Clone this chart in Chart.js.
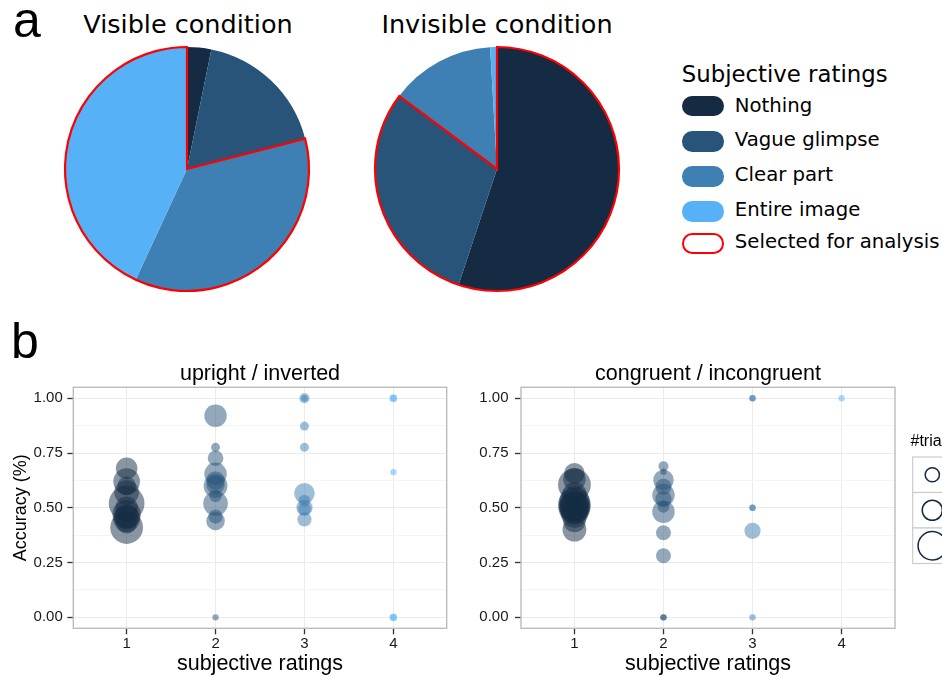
<!DOCTYPE html>
<html><head><meta charset="utf-8">
<script src="https://cdn.jsdelivr.net/npm/chart.js@4.4.0/dist/chart.umd.min.js"></script>
<style>
html,body{margin:0;padding:0;background:#fff;overflow:hidden;width:942px;height:677px;}
body{position:relative;}
.abs{position:absolute;white-space:nowrap;line-height:1;}
.dv{font-family:"DejaVu Sans";color:#000;}
.lib{font-family:"Liberation Sans";color:#000;}
.ctr{transform:translateX(-50%);}
canvas{position:absolute;}
.sw{position:absolute;left:682px;width:42px;height:20.5px;border-radius:10.25px;box-sizing:border-box;}
</style></head><body>
<div class="abs lib" style="left:13px;top:-5.3px;font-size:50px">a</div>
<div class="abs lib" style="left:11px;top:315.7px;font-size:50px">b</div>
<div class="abs dv ctr" style="left:188px;top:11.9px;font-size:25.5px">Visible condition</div>
<div class="abs dv ctr" style="left:497px;top:11.9px;font-size:25.5px">Invisible condition</div>
<div id="legend"></div>

<canvas id="pie1" width="254" height="254" style="left:60px;top:42px"></canvas>
<canvas id="pie2" width="254" height="254" style="left:370px;top:42px"></canvas>
<canvas id="sc1" width="455" height="317" style="left:0px;top:360px"></canvas>
<canvas id="sc2" width="482" height="317" style="left:460px;top:360px"></canvas>

<script>
// ---------- data ----------
const pieCategories = ['Nothing', 'Vague glimpse', 'Clear part', 'Entire image'];
const visibleShares = [3.2, 17.8, 35.9, 43.1];
const invisibleShares = [55.1, 30.1, 13.9, 0.9];
const visibleSelected = [false, false, true, true];
const invisibleSelected = [true, true, false, false];

const xTickValues = [1, 2, 3, 4];
const yMajorTicks = [0, 0.25, 0.5, 0.75, 1];
const yMinorTicks = [0.125, 0.375, 0.625, 0.875];

// upright / inverted
const uiRating   = [1,1,1,1,1,1,1,1,1,1,1, 2,2,2,2,2,2,2,2,2,2,2,2, 3,3,3,3,3,3,3,3,3, 4,4,4,4,4];
const uiAccuracy = [0.68,0.62,0.60,0.57,0.52,0.50,0.47,0.45,0.43,0.41,0.46,
                    0.92,0.776,0.726,0.655,0.625,0.605,0.60,0.555,0.52,0.46,0.44,0.0,
                    1.0,1.0,0.873,0.776,0.566,0.532,0.50,0.495,0.447,
                    1.0,1.0,0.663,0.0,0.0];
const uiTrials   = [23,35,17,30,63,25,40,35,21,53,30,
                    25,4,12,25,17,17,28,8,30,10,17,2,
                    5,2,4,4,21,7,13,8,10,
                    3,2,2,3,2];

// congruent / incongruent
const ciRating   = [1,1,1,1,1,1,1,1,1,1,1,1,1, 2,2,2,2,2,2,2,2,2,2,2,2, 3,3,3,3,3,3, 4];
const ciAccuracy = [0.657,0.63,0.605,0.56,0.53,0.515,0.50,0.49,0.47,0.44,0.40,0.51,0.50,
                    0.69,0.665,0.627,0.596,0.558,0.54,0.505,0.482,0.386,0.281,0.0,0.0,
                    1.0,1.0,0.5,0.5,0.395,0.0,
                    1.0];
const ciTrials   = [21,25,53,30,45,53,50,40,35,25,28,45,40,
                    5,2,21,13,25,13,7,25,11,11,2,2,
                    2,2,2,2,13,2,
                    2];

const trialBreaks = [10, 20, 40];

// ---------- styles ----------
const pieColors = ['#152B43', '#28547A', '#3E7FB4', '#56B1F7'];
const ratingColors = ['#132B43', '#285378', '#3D7EB2', '#56B1F7'];
const SIZE_K = 2.25;
const radiusOf = n => SIZE_K * Math.sqrt(n);
function withAlpha(hex, a) {
  const r = parseInt(hex.slice(1,3),16), g = parseInt(hex.slice(3,5),16), b = parseInt(hex.slice(5,7),16);
  return `rgba(${r},${g},${b},${a})`;
}

// ---------- legend (HTML) ----------
(function(){
  const L = document.getElementById('legend');
  let html = '<div class="abs dv" style="left:681.8px;top:63px;font-size:22.8px">Subjective ratings</div>';
  const swTops = [95.7, 131, 166, 201];
  const txtTops = [95.6, 130, 165, 200];
  pieCategories.forEach((c,i)=>{
    html += `<div class="sw" style="top:${swTops[i]}px;background:${pieColors[i]}"></div>`;
    html += `<div class="abs dv" style="left:734.8px;top:${txtTops[i]}px;font-size:19.7px">${c}</div>`;
  });
  html += '<div class="sw" style="top:232.5px;height:21px;background:#fff;border:2px solid #ff0000"></div>';
  html += '<div class="abs dv" style="left:734.8px;top:231.6px;font-size:19.7px">Selected for analysis</div>';
  L.innerHTML = html;
})();

// ---------- pies ----------
function selectionOutline(selected) {
  return {
    id: 'selectionOutline',
    afterDatasetsDraw(chart) {
      const arcs = chart.getDatasetMeta(0).data;
      const idx = selected.map((s,i)=>s?i:-1).filter(i=>i>=0);
      const first = arcs[idx[0]], last = arcs[idx[idx.length-1]];
      const ctx = chart.ctx;
      ctx.save();
      ctx.beginPath();
      ctx.moveTo(first.x, first.y);
      ctx.arc(first.x, first.y, first.outerRadius, first.startAngle, last.endAngle);
      ctx.closePath();
      ctx.strokeStyle = '#ff0000';
      ctx.lineWidth = 2.2;
      ctx.lineJoin = 'miter';
      ctx.stroke();
      ctx.restore();
    }
  };
}
function pieConfig(values, selected) {
  return {
    type: 'pie',
    data: { labels: pieCategories, datasets: [{ data: values, backgroundColor: pieColors,
      borderWidth: 0, hoverBorderWidth: 0, hoverOffset: 0, offset: 0 }] },
    options: { responsive: false, animation: false, events: [], devicePixelRatio: 1,
      layout: { padding: 5 },
      plugins: { legend: { display: false }, tooltip: { enabled: false } } },
    plugins: [selectionOutline(selected)]
  };
}
new Chart(document.getElementById('pie1'), pieConfig(visibleShares, visibleSelected));
new Chart(document.getElementById('pie2'), pieConfig(invisibleShares, invisibleSelected));

// ---------- scatter panels ----------
const panelBorder = {
  id: 'panelBorder',
  afterDraw(chart) {
    const { ctx, chartArea: a } = chart;
    ctx.save();
    ctx.strokeStyle = '#bdbdbd';
    ctx.lineWidth = 1.4;
    ctx.strokeRect(a.left, a.top, a.right - a.left, a.bottom - a.top);
    ctx.restore();
  }
};
const trialsLegend = {
  id: 'trialsLegend',
  afterDraw(chart) {
    const { ctx, chartArea: a } = chart;
    ctx.save();
    ctx.fillStyle = '#000';
    ctx.font = '16px "Liberation Sans"';
    ctx.textBaseline = 'middle';
    ctx.fillText('#trials', a.right + 15.5, a.top + 54.4);
    const bx = a.right + 17.7, by = a.top + 69.7, rh = 35.5;
    trialBreaks.forEach((n, i) => {
      ctx.fillStyle = '#fff';
      ctx.fillRect(bx, by + i*rh, 60, rh);
      ctx.strokeStyle = '#cccccc';
      ctx.lineWidth = 1.2;
      ctx.strokeRect(bx, by + i*rh, 60, rh);
    });
    trialBreaks.forEach((n, i) => {
      ctx.beginPath();
      ctx.arc(a.right + 37.3, by + rh*(i+0.5), radiusOf(n), 0, Math.PI*2);
      ctx.strokeStyle = ratingColors[0];
      ctx.lineWidth = 1.5;
      ctx.stroke();
    });
    ctx.restore();
  }
};
const isMinor = v => yMinorTicks.some(m => Math.abs(m - v) < 1e-6);

function panelConfig(title, ratings, acc, trials, opts) {
  return {
    type: 'bubble',
    data: { datasets: [{
      data: ratings.map((x, i) => ({ x: x, y: acc[i], r: radiusOf(trials[i]) })),
      backgroundColor: ratings.map(x => withAlpha(ratingColors[x-1], 0.5)),
      borderWidth: 0, hoverBorderWidth: 0, hoverRadius: 0
    }] },
    options: {
      responsive: false, animation: false, events: [], devicePixelRatio: 1,
      layout: { autoPadding: false, padding: { left: 0, right: opts.rightPad, top: 0, bottom: 0 } },
      plugins: {
        legend: { display: false }, tooltip: { enabled: false },
        title: { display: true, text: title, fullSize: false, color: '#000',
          font: { family: 'Liberation Sans', size: 21.5, weight: 'normal' }, padding: { top: 1.5, bottom: 0 } }
      },
      scales: {
        x: {
          type: 'linear', min: 0.4, max: 4.6,
          afterBuildTicks: s => { s.ticks = xTickValues.map(v => ({ value: v })); },
          afterFit: s => { s.height = 48.7; },
          border: { display: false },
          grid: { color: '#ebebeb', lineWidth: 1, tickColor: '#333', tickLength: 6, tickWidth: 1.3 },
          ticks: { autoSkip: false, maxRotation: 0, padding: 1, color: '#1a1a1a',
            font: { family: 'Liberation Sans', size: 15 }, callback: v => String(v) },
          title: { display: true, text: 'subjective ratings', color: '#000',
            font: { family: 'Liberation Sans', size: 21.5 }, padding: { top: 0, bottom: 0.5 } }
        },
        y: {
          type: 'linear', min: -0.05, max: 1.05,
          afterBuildTicks: s => { s.ticks = yMajorTicks.concat(yMinorTicks).sort((p,q)=>p-q).map(v => ({ value: v })); },
          afterFit: s => { s.width = opts.yWidth; },
          border: { display: false },
          grid: {
            color: c => (c.tick && isMinor(c.tick.value)) ? '#f5f5f5' : '#ebebeb',
            lineWidth: 1,
            tickColor: c => (c.tick && isMinor(c.tick.value)) ? 'rgba(0,0,0,0)' : '#333',
            tickLength: 6, tickWidth: 1.3
          },
          ticks: { autoSkip: false, padding: opts.tickPad, color: '#1a1a1a',
            font: { family: 'Liberation Sans', size: 15 },
            callback: v => isMinor(v) ? '' : Number(v).toFixed(2) },
          title: { display: opts.yTitle, text: 'Accuracy (%)', color: '#000',
            font: { family: 'Liberation Sans', size: 18 }, padding: { top: 10, bottom: 0 } }
        }
      }
    },
    plugins: [panelBorder].concat(opts.extra || [])
  };
}
new Chart(document.getElementById('sc1'),
  panelConfig('upright / inverted', uiRating, uiAccuracy, uiTrials, { yWidth: 73.3, rightPad: 8.3, yTitle: true, tickPad: 4.5 }));
new Chart(document.getElementById('sc2'),
  panelConfig('congruent / incongruent', ciRating, ciAccuracy, ciTrials, { yWidth: 61, rightPad: 47, yTitle: false, tickPad: 6.5, extra: [trialsLegend] }));
</script>
</body></html>
